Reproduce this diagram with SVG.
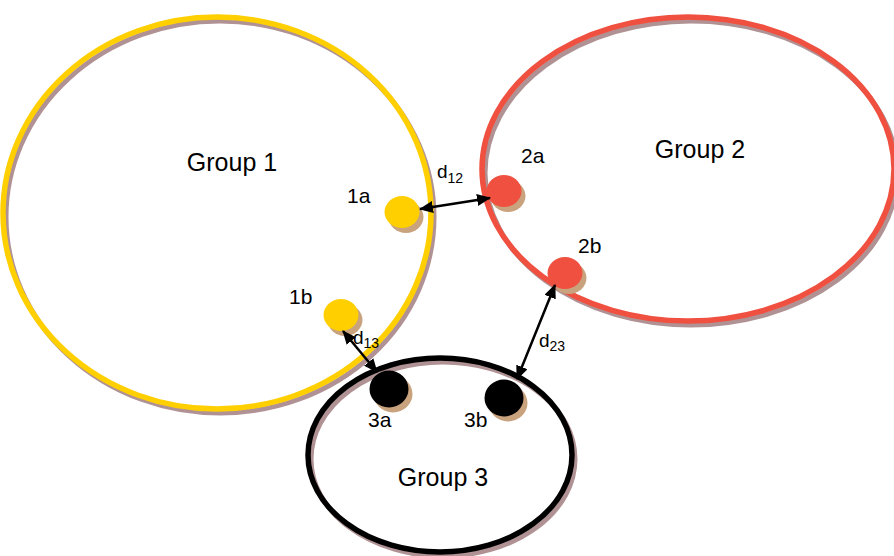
<svg xmlns="http://www.w3.org/2000/svg" width="894" height="556" viewBox="0 0 894 556">
<style>
.shadow{fill:none;stroke:#b09294;stroke-width:5}
.ring{fill:none;stroke-width:5.5}
.dshadow{fill:#c9a27e}
.lbl{font-family:"Liberation Sans",Arial,sans-serif;fill:#000}
.big{font-size:25px;text-anchor:middle}
.small{font-size:21px}
.dl{font-size:19px}
.sub{font-size:14px}
.arrow{stroke:#000;stroke-width:2.5;fill:none;marker-start:url(#ah);marker-end:url(#ah)}
</style>
<defs>
<marker id="ah" viewBox="0 0 14 12" refX="13" refY="6" markerWidth="14" markerHeight="12" markerUnits="userSpaceOnUse" orient="auto-start-reverse">
<path d="M0,0 L14,6 L0,12 Z" fill="#000"/>
</marker>
</defs>
<rect width="894" height="556" fill="#fff"/>
<g id="group1">
<ellipse class="shadow" cx="220" cy="217" rx="214" ry="196"/>
<ellipse class="ring" cx="217" cy="213" rx="214" ry="196" stroke="#ffcf00"/>
<text class="lbl big" x="232" y="171">Group 1</text>
</g>
<g id="group2">
<ellipse class="shadow" cx="691" cy="173" rx="206" ry="152"/>
<ellipse class="ring" cx="688" cy="169" rx="206" ry="152" stroke="#ef5040"/>
<text class="lbl big" x="700" y="158">Group 2</text>
</g>
<g id="group3">
<ellipse class="shadow" cx="443" cy="459" rx="132" ry="97"/>
<ellipse class="ring" cx="440" cy="455" rx="132" ry="97" stroke="#000"/>
<text class="lbl big" x="443" y="486">Group 3</text>
</g>
<g id="node1a">
<ellipse class="dshadow" cx="406" cy="217" rx="17.5" ry="16"/>
<ellipse cx="402" cy="212" rx="17.5" ry="16" fill="#ffcf00"/>
<text class="lbl small" x="347" y="203">1a</text>
</g>
<g id="node1b">
<ellipse class="dshadow" cx="345" cy="320" rx="17.5" ry="16"/>
<ellipse cx="341" cy="315" rx="17.5" ry="16" fill="#ffcf00"/>
<text class="lbl small" x="289" y="304">1b</text>
</g>
<g id="node2a">
<ellipse class="dshadow" cx="508" cy="196" rx="17.5" ry="16"/>
<ellipse cx="504" cy="191" rx="17.5" ry="16" fill="#ef5040"/>
<text class="lbl small" x="521" y="163">2a</text>
</g>
<g id="node2b">
<ellipse class="dshadow" cx="569" cy="278" rx="17.5" ry="16"/>
<ellipse cx="565" cy="273" rx="17.5" ry="16" fill="#ef5040"/>
<text class="lbl small" x="578" y="253">2b</text>
</g>
<g id="node3a">
<ellipse class="dshadow" cx="393" cy="394" rx="19.5" ry="18.5"/>
<ellipse cx="389" cy="389" rx="19.5" ry="18.5" fill="#000"/>
<text class="lbl small" x="368" y="427">3a</text>
</g>
<g id="node3b">
<ellipse class="dshadow" cx="508" cy="403" rx="19.5" ry="18.5"/>
<ellipse cx="504" cy="398" rx="19.5" ry="18.5" fill="#000"/>
<text class="lbl small" x="464" y="427">3b</text>
</g>
<g id="connectors">
<line class="arrow" x1="420" y1="209" x2="490" y2="198"/>
<line class="arrow" x1="343" y1="331" x2="377" y2="372"/>
<line class="arrow" x1="555" y1="285" x2="517" y2="379"/>
<text class="lbl dl" x="437" y="178">d<tspan class="sub" dy="5">12</tspan></text>
<text class="lbl dl" x="353" y="344">d<tspan class="sub" dy="4">13</tspan></text>
<text class="lbl dl" x="539" y="347">d<tspan class="sub" dy="4">23</tspan></text>
</g>
</svg>
